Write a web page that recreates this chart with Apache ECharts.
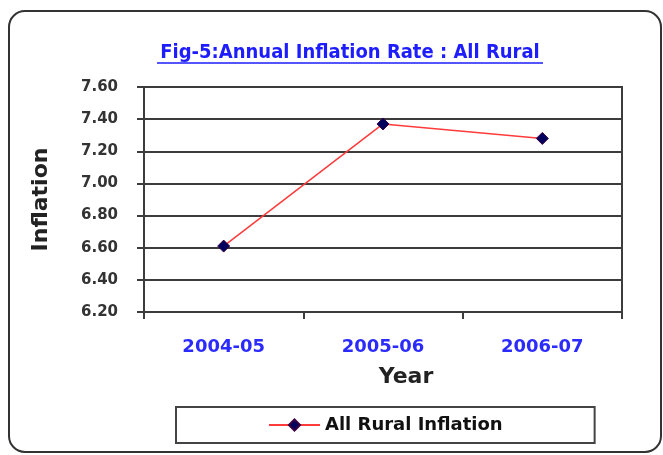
<!DOCTYPE html>
<html>
<head>
<meta charset="utf-8">
<script src="https://cdn.jsdelivr.net/npm/echarts@6/dist/echarts.min.js"></script>
<style>
  html, body { margin: 0; padding: 0; background: #fff; }
  #chart { width: 663px; height: 455px; }
</style>
</head>
<body>
<div id="chart"></div>
<script>
// data
const years = ["2004-05", "2005-06", "2006-07"];
const ruralInflation = [6.61, 7.37, 7.28];
const seriesName = "All Rural Inflation";
const titleText = "Fig-5:Annual Inflation Rate : All Rural";

const FONT = "DejaVu Sans";

const chart = echarts.init(document.getElementById("chart"));

chart.setOption({
  backgroundColor: "#fff",
  animation: false,
  grid: {
    left: 144, right: 41, top: 87, bottom: 143,
    show: true,
    borderColor: "#3c3c3c",
    borderWidth: 2
  },
  xAxis: {
    type: "category",
    data: years,
    boundaryGap: true,
    axisLine: { lineStyle: { color: "#3c3c3c", width: 2 } },
    axisTick: { show: true, interval: 0, length: 7, lineStyle: { color: "#3c3c3c", width: 2 } },
    axisLabel: {
      margin: 26,
      color: "#2b2bff",
      fontFamily: FONT,
      fontWeight: "bold",
      fontSize: 18
    }
  },
  yAxis: {
    type: "value",
    min: 6.2,
    max: 7.6,
    interval: 0.2,
    name: "Inflation",
    nameLocation: "middle",
    nameRotate: 90,
    nameGap: 92,
    nameTextStyle: { color: "#222", fontFamily: FONT, fontWeight: "bold", fontSize: 22 },
    axisLine: { show: true, lineStyle: { color: "#3c3c3c", width: 2 } },
    axisTick: { show: true, length: 7, lineStyle: { color: "#3c3c3c", width: 2 } },
    splitLine: { lineStyle: { color: "#3c3c3c", width: 2 } },
    axisLabel: {
      margin: 26,
      color: "#333",
      fontFamily: FONT,
      fontWeight: "bold",
      fontSize: 15,
      formatter: v => v.toFixed(2)
    }
  },
  legend: {
    data: [seriesName],
    left: 176,
    top: 407,
    padding: [9, 92, 9, 92],
    borderColor: "#444",
    borderWidth: 2,
    itemWidth: 51,
    itemHeight: 14,
    itemGap: 5,
    textStyle: { color: "#111", fontFamily: FONT, fontWeight: "bold", fontSize: 18 }
  },
  series: [{
    name: seriesName,
    type: "line",
    data: ruralInflation,
    symbol: "diamond",
    symbolSize: 12,
    lineStyle: { color: "#ff3b3b", width: 1.5 },
    itemStyle: { color: "#00005e", borderColor: "#3a0040", borderWidth: 1 }
  }],
  graphic: [
    {
      type: "rect",
      shape: { x: 9, y: 11, width: 652, height: 441, r: 16 },
      style: { fill: null, stroke: "#333", lineWidth: 2 },
      silent: true
    },
    {
      type: "text",
      x: 350, y: 53,
      style: {
        text: titleText,
        align: "center",
        verticalAlign: "middle",
        fill: "#1d1dff",
        font: "bold 20px 'DejaVu Sans Condensed', 'DejaVu Sans'"
      }
    },
    {
      type: "line",
      shape: { x1: 157, y1: 63, x2: 543, y2: 63 },
      style: { stroke: "#1d1dff", lineWidth: 1.5 }
    },
    {
      type: "text",
      x: 406, y: 377,
      style: {
        text: "Year",
        align: "center",
        verticalAlign: "middle",
        fill: "#222",
        font: "bold 22px 'DejaVu Sans'"
      }
    }
  ]
});
</script>
</body>
</html>
